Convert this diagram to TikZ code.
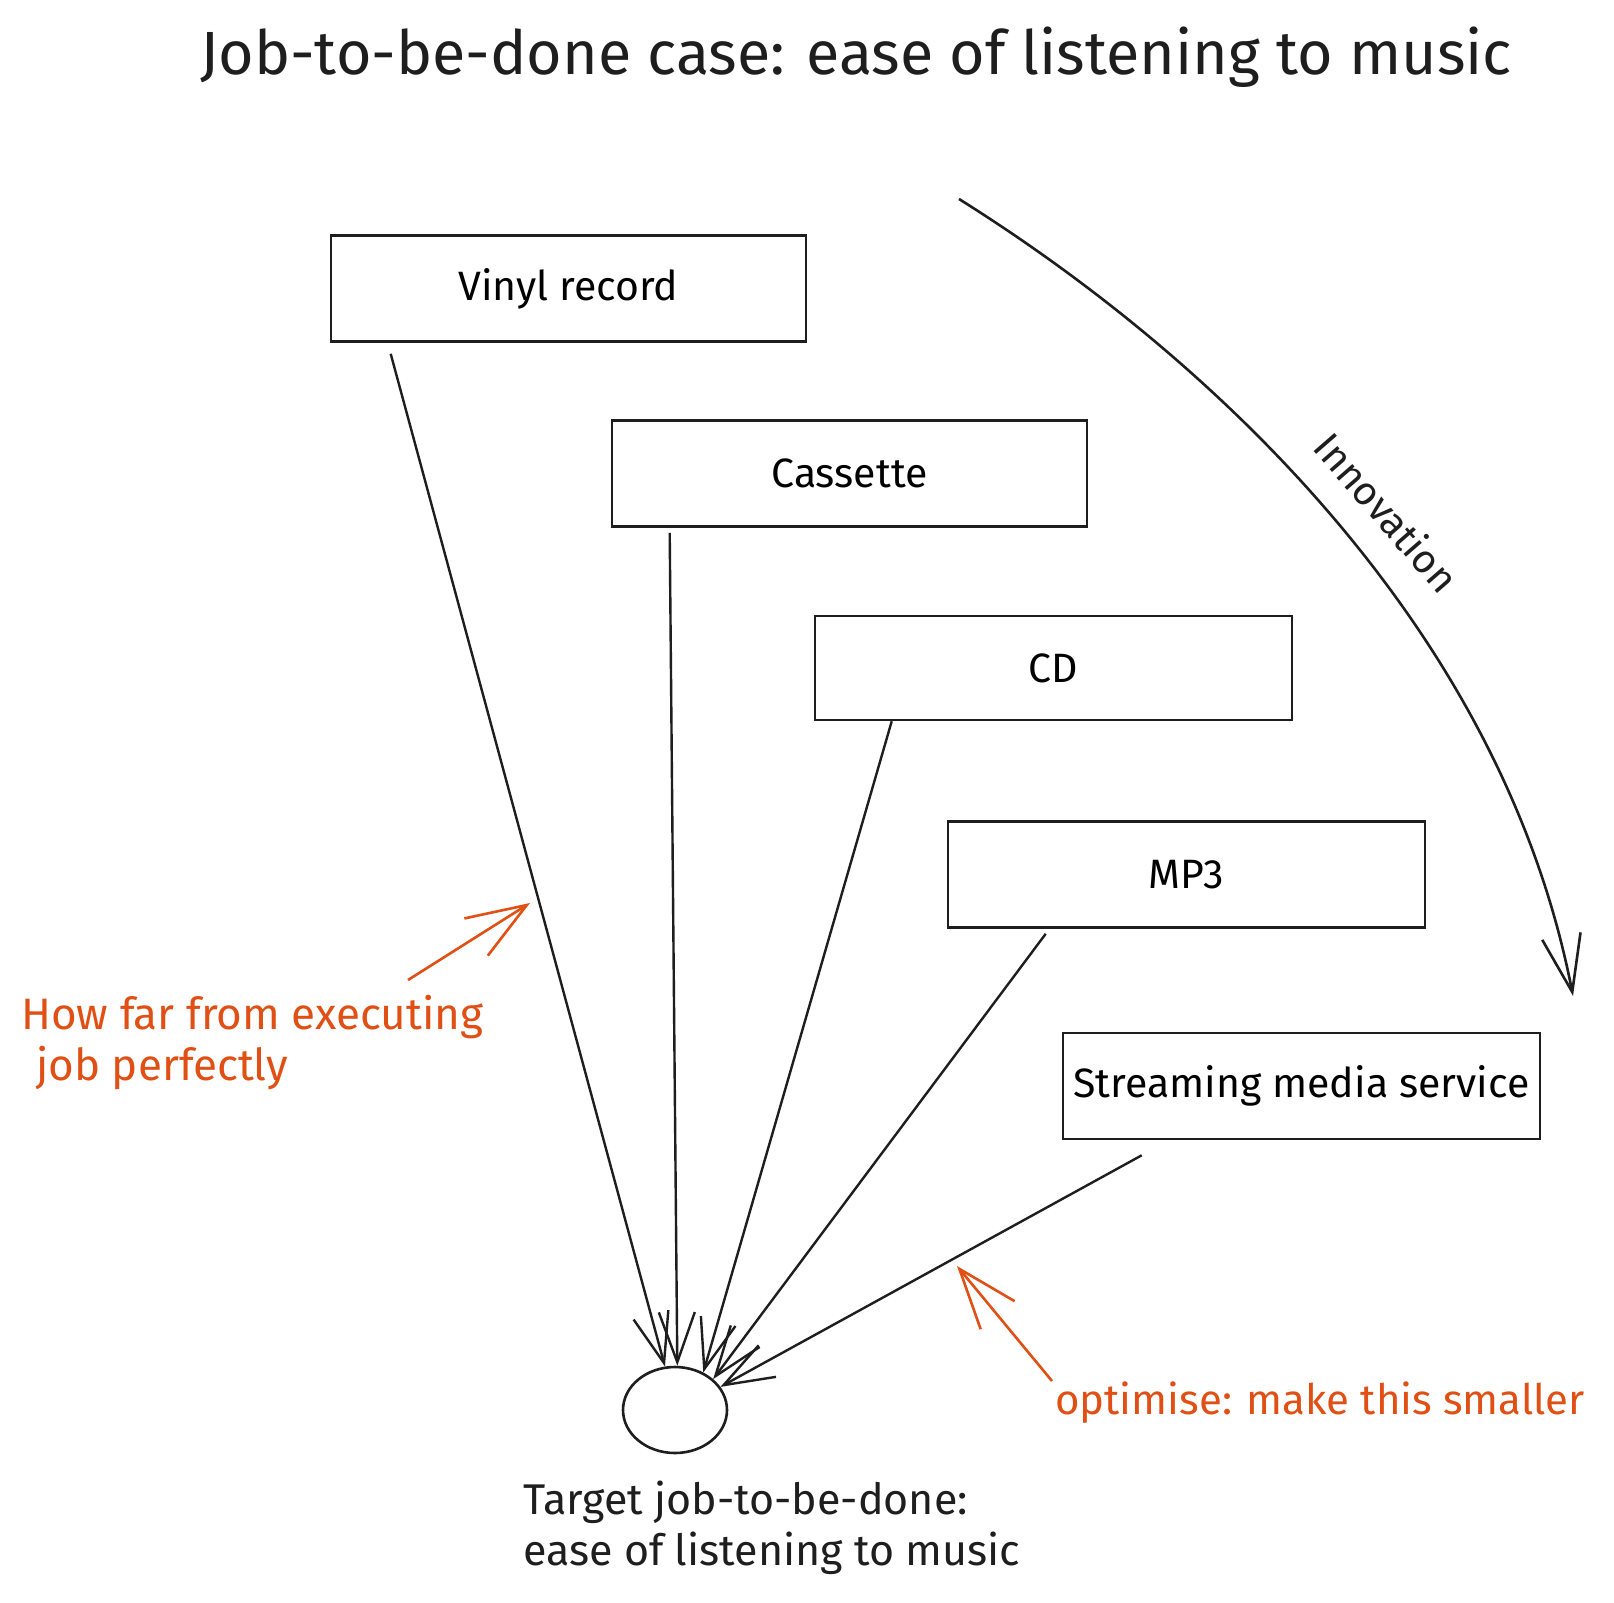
\documentclass[tikz,border=0pt]{standalone}
\usepackage{fontspec}
\setmainfont{Fira Sans}
\usetikzlibrary{arrows.meta,shapes.geometric,calc}
\definecolor{ink}{RGB}{30,30,30}
\definecolor{accent}{RGB}{224,80,20}
\begin{document}
\begin{tikzpicture}[x=1pt,y=-1pt,
  box/.style={draw=ink,line width=2.6pt,minimum width=475pt,minimum height=106pt,inner sep=0pt,font=\fontsize{41}{48}\selectfont},
  link/.style={draw=ink,line width=2.4pt,-{Straight Barb[length=50pt,width=36pt]}},
  note/.style={text=accent,font=\fontsize{42}{51}\selectfont,inner sep=0pt},
  noteline/.style={draw=accent,line width=2.6pt,-{Straight Barb[length=60pt,width=44pt]}},
  lbl/.style={text=ink,font=\fontsize{42}{51}\selectfont,inner sep=0pt}
]
\fill[white] (0,0) rectangle (1614,1603);
\useasboundingbox (0,0) rectangle (1614,1603);

\node[lbl,font=\fontsize{61}{66}\selectfont] (title) at (856,57) {Job-to-be-done case: ease of listening to music};

\node[box] (vinyl) at (568.5,288.5) {Vinyl record};
\node[box] (cass) at (849.5,473.5) {Cassette};
\node[box,minimum width=477pt,minimum height=104pt] (cd) at (1053.5,668) {CD};
\node[box,minimum width=477pt] (mp3) at (1186.5,874.5) {MP3};
\node[box,minimum width=477pt] (stream) at (1301.5,1086) {Streaming media service};

\node[draw=ink,line width=2.6pt,ellipse,minimum width=104pt,minimum height=86pt,inner sep=0pt] (tgt) at (675,1410) {};

\draw[link] ($(vinyl.south west)+(61,11)$) -- (tgt.103);
\draw[link] ($(cass.south west)+(59,5)$) -- (tgt.87);
\draw[link] ($(cd.south west)+(78,0)$) -- (tgt.53);
\draw[link] ($(mp3.south west)+(99,5)$) -- (tgt.39);
\draw[link] ($(stream.south west)+(80,15)$) -- (tgt.27);

\node[lbl,align=left,anchor=west,font=\fontsize{43}{51}\selectfont] (tlabel) at (523,1528) {Target job-to-be-done:\\ease of listening to music};

\coordinate (inA) at (959,199);
\coordinate (inB) at (1573,996);
\draw[draw=ink,line width=2.6pt,-{Straight Barb[length=57pt,width=39pt]}] (inA) .. controls (1200,350) and (1500,620) .. (inB);
\node[lbl,rotate=-49,font=\fontsize{40}{48}\selectfont] (innov) at (1387,512) {Innovation};

\node[note,align=left,anchor=north west,font=\fontsize{44}{51}\selectfont] (far) at (21,995) {How far from executing\\\hspace*{15pt}job perfectly};
\coordinate (farA) at (408,980);
\coordinate (farB) at (530,903);
\draw[noteline] (farA) -- (farB);

\node[note,anchor=west,font=\fontsize{42}{51}\selectfont] (opt) at (1055,1403) {optimise: make this smaller};
\coordinate (optA) at (1052,1381);
\coordinate (optB) at (957,1266);
\draw[noteline] (optA) -- (optB);
\end{tikzpicture}
\end{document}
